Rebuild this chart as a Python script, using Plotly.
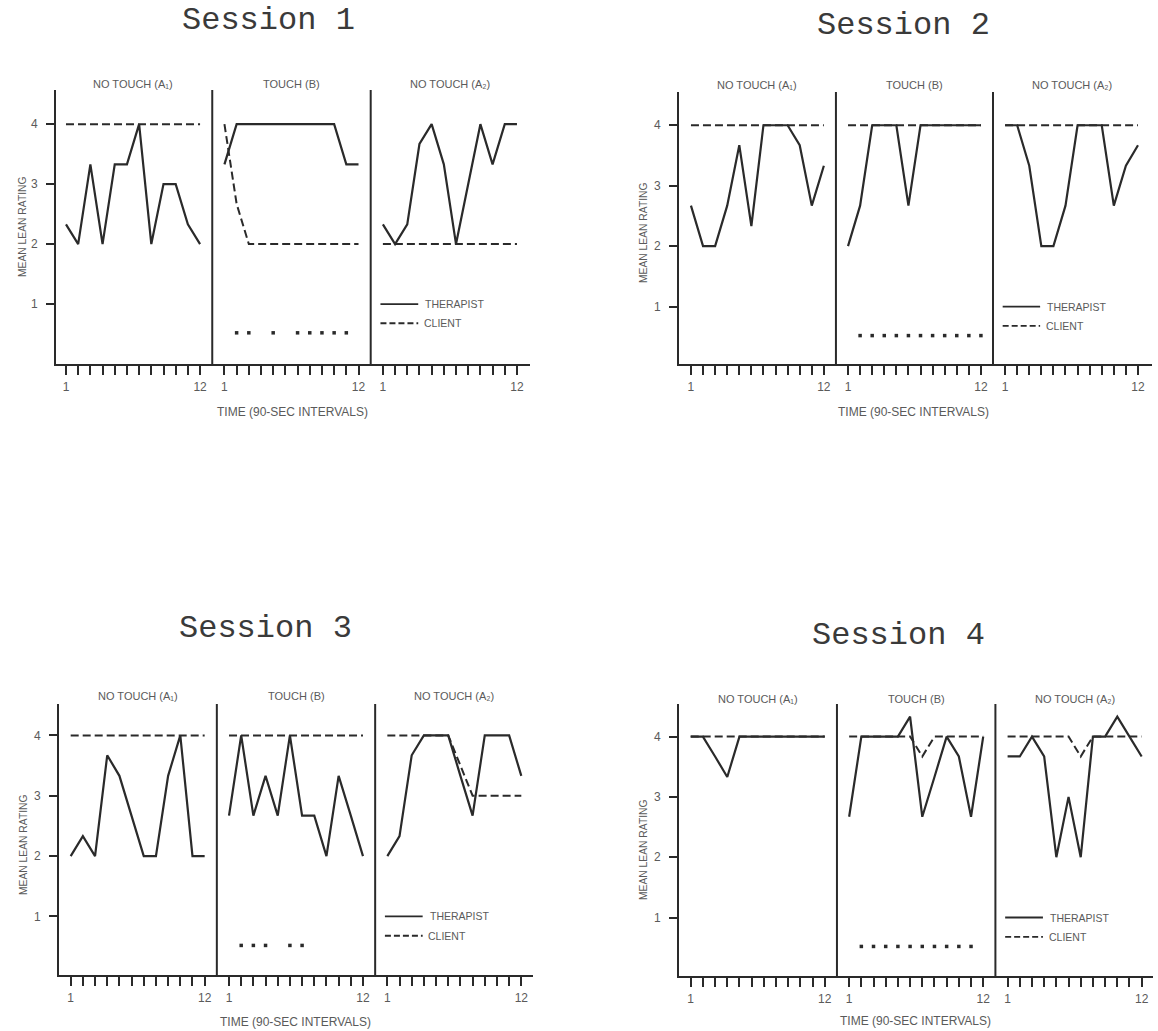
import plotly.graph_objects as go

W, H = 1158, 1031

# Interval positions of the three phases on one shared x axis per session
A1_POS = list(range(1, 13))
B_POS = list(range(14, 26))
A2_POS = list(range(27, 39))

SESSION_TITLES = ["Session 1", "Session 2", "Session 3", "Session 4"]
PHASE_TITLES = ["NO TOUCH (A\u2081)", "TOUCH (B)", "NO TOUCH (A\u2082)"]
Y_TICKS = [1, 2, 3, 4]

# Session 1 mean lean ratings
s1_a1_therapist = [2.33, 2, 3.33, 2, 3.33, 3.33, 4, 2, 3, 3, 2.33, 2]
s1_a1_client = [4, 4, 4, 4, 4, 4, 4, 4, 4, 4, 4, 4]
s1_b_therapist = [3.33, 4, 4, 4, 4, 4, 4, 4, 4, 4, 3.33, 3.33]
s1_b_client = [4, 2.67, 2, 2, 2, 2, 2, 2, 2, 2, 2, 2]
s1_a2_therapist = [2.33, 2, 2.33, 3.67, 4, 3.33, 2, 3, 4, 3.33, 4, 4]
s1_a2_client = [2, 2, 2, 2, 2, 2, 2, 2, 2, 2, 2, 2]
s1_touches = [2, 3, 5, 7, 8, 9, 10, 11]

# Session 2
s2_a1_therapist = [2.67, 2, 2, 2.67, 3.67, 2.33, 4, 4, 4, 3.67, 2.67, 3.33]
s2_a1_client = [4, 4, 4, 4, 4, 4, 4, 4, 4, 4, 4, 4]
s2_b_therapist = [2, 2.67, 4, 4, 4, 2.67, 4, 4, 4, 4, 4, 4]
s2_b_client = [4, 4, 4, 4, 4, 4, 4, 4, 4, 4, 4, 4]
s2_a2_therapist = [4, 4, 3.33, 2, 2, 2.67, 4, 4, 4, 2.67, 3.33, 3.67]
s2_a2_client = [4, 4, 4, 4, 4, 4, 4, 4, 4, 4, 4, 4]
s2_touches = [2, 3, 4, 5, 6, 7, 8, 9, 10, 11, 12]

# Session 3
s3_a1_therapist = [2, 2.33, 2, 3.67, 3.33, 2.67, 2, 2, 3.33, 4, 2, 2]
s3_a1_client = [4, 4, 4, 4, 4, 4, 4, 4, 4, 4, 4, 4]
s3_b_therapist = [2.67, 4, 2.67, 3.33, 2.67, 4, 2.67, 2.67, 2, 3.33, 2.67, 2]
s3_b_client = [4, 4, 4, 4, 4, 4, 4, 4, 4, 4, 4, 4]
s3_a2_therapist = [2, 2.33, 3.67, 4, 4, 4, 3.33, 2.67, 4, 4, 4, 3.33]
s3_a2_client = [4, 4, 4, 4, 4, 4, 3.5, 3, 3, 3, 3, 3]
s3_touches = [2, 3, 4, 6, 7]

# Session 4
s4_a1_therapist = [4, 4, 3.67, 3.33, 4, 4, 4, 4, 4, 4, 4, 4]
s4_a1_client = [4, 4, 4, 4, 4, 4, 4, 4, 4, 4, 4, 4]
s4_b_therapist = [2.67, 4, 4, 4, 4, 4.33, 2.67, 3.33, 4, 3.67, 2.67, 4]
s4_b_client = [4, 4, 4, 4, 4, 4, 3.67, 4, 4, 4, 4, 4]
s4_a2_therapist = [3.67, 3.67, 4, 3.67, 2, 3, 2, 4, 4, 4.33, 4, 3.67]
s4_a2_client = [4, 4, 4, 4, 4, 4, 3.67, 4, 4, 4, 4, 4]
s4_touches = [2, 3, 4, 5, 6, 7, 8, 9, 10, 11]

sessions = [
    dict(therapist=[s1_a1_therapist, s1_b_therapist, s1_a2_therapist],
         client=[s1_a1_client, s1_b_client, s1_a2_client], touches=s1_touches),
    dict(therapist=[s2_a1_therapist, s2_b_therapist, s2_a2_therapist],
         client=[s2_a1_client, s2_b_client, s2_a2_client], touches=s2_touches),
    dict(therapist=[s3_a1_therapist, s3_b_therapist, s3_a2_therapist],
         client=[s3_a1_client, s3_b_client, s3_a2_client], touches=s3_touches),
    dict(therapist=[s4_a1_therapist, s4_b_therapist, s4_a2_therapist],
         client=[s4_a1_client, s4_b_client, s4_a2_client], touches=s4_touches),
]

# Panel placement in pixels: left, right, top, bottom, x range, y range
panels = [
    dict(l=56, r=530, t=90, b=364, xr=[0.18, 39.07], yr=[0, 4.57],
         title=(268, 20), ytitle=(23, 227), xtitle=(293, 412), phase_y=84),
    dict(l=679, r=1152, t=92, b=364, xr=[0.01, 39.16], yr=[0.05, 4.55],
         title=(903, 25), ytitle=(643, 233), xtitle=(913, 412), phase_y=85),
    dict(l=59, r=533, t=704, b=975, xr=[0.04, 38.96], yr=[0.03, 4.52],
         title=(265, 628), ytitle=(23, 845), xtitle=(295, 1022), phase_y=696),
    dict(l=679, r=1153, t=704, b=976, xr=[0.04, 38.93], yr=[0.03, 4.54],
         title=(899, 635), ytitle=(643, 850), xtitle=(915, 1021), phase_y=699),
]

INK = "#2a2a2a"
LABEL = "#5a5a5a"
SANS = "Liberation Sans, Arial, sans-serif"
MONO = "Courier New, Liberation Mono, monospace"
DASH = "8px,4px"
TOUCH_Y = 0.52

fig = go.Figure()
shapes = []
annotations = []
phase_positions = [A1_POS, B_POS, A2_POS]

# only the first and last interval of each phase carry a label
labelled_ticks = []
labelled_text = []
for pos in phase_positions:
    labelled_ticks += [pos[0], pos[-1]]
    labelled_text += ["1", "12"]
all_ticks = A1_POS + B_POS + A2_POS


def px(x):
    return x / W


def py(y):
    return 1 - y / H


for i, (sess, pan) in enumerate(zip(sessions, panels), start=1):
    xa = "x" if i == 1 else f"x{i}"
    ya = "y" if i == 1 else f"y{i}"

    for pos, ther, cli in zip(phase_positions, sess["therapist"], sess["client"]):
        fig.add_trace(go.Scatter(
            x=pos, y=cli, xaxis=xa, yaxis=ya, mode="lines",
            line=dict(color=INK, width=2, dash=DASH), showlegend=False,
            hoverinfo="skip"))
        fig.add_trace(go.Scatter(
            x=pos, y=ther, xaxis=xa, yaxis=ya, mode="lines",
            line=dict(color=INK, width=2.2), showlegend=False,
            hoverinfo="skip"))

    # touch events during phase B
    fig.add_trace(go.Scatter(
        x=[B_POS[t - 1] for t in sess["touches"]],
        y=[TOUCH_Y] * len(sess["touches"]),
        xaxis=xa, yaxis=ya, mode="markers",
        marker=dict(symbol="square", size=3.5, color=INK),
        showlegend=False, hoverinfo="skip"))

    axis_suffix = "" if i == 1 else str(i)
    fig.update_layout(**{
        f"xaxis{axis_suffix}": dict(
            domain=[px(pan["l"]), px(pan["r"])], range=pan["xr"],
            anchor=ya, showgrid=False, zeroline=False,
            showline=True, linewidth=2, linecolor=INK,
            ticks="outside", ticklen=9, tickwidth=2, tickcolor=INK,
            tickvals=labelled_ticks, ticktext=labelled_text, ticklabelstandoff=2,
            minor=dict(tickvals=all_ticks, ticks="outside", ticklen=9,
                       tickwidth=2, tickcolor=INK, showgrid=False),
            tickfont=dict(family=SANS, size=12, color=LABEL)),
        f"yaxis{axis_suffix}": dict(
            domain=[py(pan["b"]), py(pan["t"])], range=pan["yr"],
            anchor=xa, showgrid=False, zeroline=False,
            showline=True, linewidth=2, linecolor=INK,
            ticks="outside", ticklen=8, tickwidth=2, tickcolor=INK,
            tickvals=Y_TICKS, ticklabelstandoff=6,
            tickfont=dict(family=SANS, size=12, color=LABEL)),
    })

    # phase separators
    for sep in (13, 26):
        shapes.append(dict(type="line", xref=xa, yref=ya, x0=sep, x1=sep,
                           y0=pan["yr"][0], y1=pan["yr"][1],
                           line=dict(color=INK, width=2)))

    # legend key inside the A2 phase
    shapes.append(dict(type="line", xref=xa, yref=ya, x0=26.8, x1=29.9,
                       y0=1.0, y1=1.0, line=dict(color=INK, width=1.8)))
    shapes.append(dict(type="line", xref=xa, yref=ya, x0=26.8, x1=29.9,
                       y0=0.68, y1=0.68, line=dict(color=INK, width=1.8, dash="6px,3px")))
    annotations.append(dict(x=30.3, y=1.0, xref=xa, yref=ya, text="THERAPIST",
                            showarrow=False, xanchor="left", yanchor="middle",
                            font=dict(family=SANS, size=10.5, color=LABEL)))
    annotations.append(dict(x=30.2, y=0.68, xref=xa, yref=ya, text="CLIENT",
                            showarrow=False, xanchor="left", yanchor="middle",
                            font=dict(family=SANS, size=10.5, color=LABEL)))

    # phase headings
    for cx, txt in zip((6.5, 19.5, 32.5), PHASE_TITLES):
        annotations.append(dict(x=cx, y=py(pan["phase_y"]), xref=xa, yref="paper",
                                text=txt, showarrow=False, xanchor="center",
                                yanchor="middle",
                                font=dict(family=SANS, size=11, color=LABEL)))

    # axis titles
    annotations.append(dict(x=px(pan["ytitle"][0]), y=py(pan["ytitle"][1]),
                            xref="paper", yref="paper", text="MEAN LEAN RATING",
                            textangle=-90, showarrow=False,
                            xanchor="center", yanchor="middle",
                            font=dict(family=SANS, size=10.3, color=LABEL)))
    annotations.append(dict(x=px(pan["xtitle"][0]), y=py(pan["xtitle"][1]),
                            xref="paper", yref="paper",
                            text="TIME (90-SEC INTERVALS)", showarrow=False,
                            xanchor="center", yanchor="middle",
                            font=dict(family=SANS, size=12, color=LABEL)))

    # session title
    annotations.append(dict(x=px(pan["title"][0]), y=py(pan["title"][1]),
                            xref="paper", yref="paper",
                            text=SESSION_TITLES[i - 1], showarrow=False,
                            xanchor="center", yanchor="middle",
                            font=dict(family=MONO, size=32, color="#3a3a3a")))

fig.update_layout(
    width=W, height=H,
    margin=dict(l=0, r=0, t=0, b=0),
    paper_bgcolor="white", plot_bgcolor="white",
    shapes=shapes, annotations=annotations,
    showlegend=False,
)

fig.write_html("out.html")
